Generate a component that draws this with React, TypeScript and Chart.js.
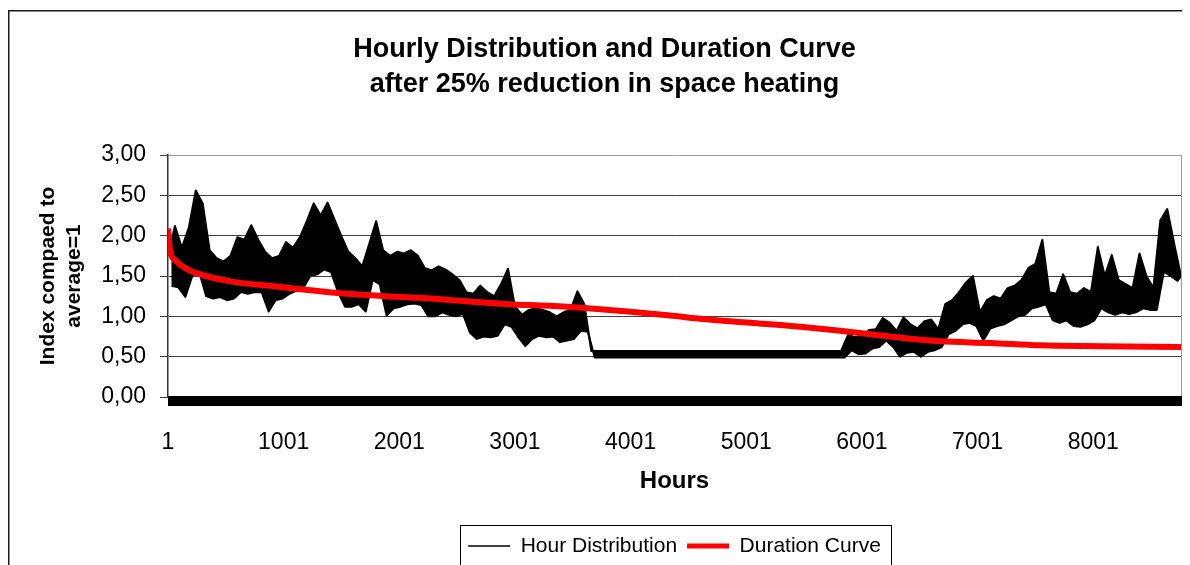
import React, { useEffect, useRef } from 'react';
import { Chart, registerables } from 'chart.js';

Chart.register(...registerables);

const FONT = "'Liberation Sans', Arial, Helvetica, sans-serif";

const titleLines = ['Hourly Distribution and Duration Curve', 'after 25% reduction in space heating'];
const yAxisTitleLines = ['Index compaed to', 'average=1'];
const xAxisTitle = 'Hours';
const xTickValues = [1, 1001, 2001, 3001, 4001, 5001, 6001, 7001, 8001];
const yTickLabels = ['0,00', '0,50', '1,00', '1,50', '2,00', '2,50', '3,00'];
const seriesNames = ['Hour Distribution', 'Duration Curve'];

// Hour distribution: every 60 hours the band's top, 30 hours later its bottom
const sampleSpacingHours = 60;
const hourHigh = [
  1.75, 2.12, 1.85, 2.10, 2.56, 2.40, 1.82, 1.72, 1.68, 1.75,
  1.98, 1.95, 2.13, 1.95, 1.80, 1.72, 1.75, 1.92, 1.85, 1.98,
  2.18, 2.40, 2.25, 2.41, 2.20, 1.99, 1.80, 1.72, 1.62, 1.90,
  2.18, 1.82, 1.75, 1.80, 1.78, 1.82, 1.75, 1.60, 1.57, 1.62,
  1.58, 1.52, 1.45, 1.30, 1.28, 1.38, 1.30, 1.25, 1.40, 1.59,
  1.12, 1.02, 1.08, 1.10, 1.08, 1.05, 1.00, 1.05, 1.08, 1.31,
  1.15,
  0.57, 0.57, 0.57, 0.57, 0.57, 0.57, 0.57, 0.57, 0.57, 0.57,
  0.57, 0.57, 0.57, 0.57, 0.57, 0.57, 0.57, 0.57, 0.57, 0.57,
  0.57, 0.57, 0.57, 0.57, 0.57, 0.57, 0.57, 0.57, 0.57, 0.57,
  0.57, 0.57, 0.57, 0.57, 0.57, 0.57, 0.57,
  0.77, 0.74, 0.76, 0.83, 0.84, 0.98, 0.92, 0.82, 0.99, 0.90,
  0.85, 0.94, 0.96, 0.84, 1.15, 1.20, 1.30, 1.42, 1.50, 1.05,
  1.20, 1.25, 1.22, 1.35, 1.38, 1.45, 1.60, 1.65, 1.95, 1.30,
  1.28, 1.52, 1.30, 1.28, 1.35, 1.30, 1.86, 1.50, 1.76, 1.45,
  1.40, 1.35, 1.78, 1.50, 1.35, 2.19, 2.33, 1.90,
];
const hourLow = [
  1.38, 1.36, 1.24, 1.50, 1.55, 1.25, 1.22, 1.24, 1.20, 1.22,
  1.30, 1.28, 1.30, 1.30, 1.06, 1.20, 1.22, 1.28, 1.32, 1.35,
  1.50, 1.52, 1.58, 1.55, 1.30, 1.12, 1.12, 1.15, 1.06, 1.45,
  1.40, 1.01, 1.10, 1.12, 1.15, 1.16, 1.14, 1.00, 1.00, 1.05,
  1.02, 1.00, 1.03, 0.80, 0.72, 0.75, 0.74, 0.76, 0.90, 0.87,
  0.74, 0.63, 0.72, 0.76, 0.74, 0.75, 0.68, 0.70, 0.72, 0.82,
  0.81,
  0.49, 0.49, 0.49, 0.49, 0.49, 0.49, 0.49, 0.49, 0.49, 0.49,
  0.49, 0.49, 0.49, 0.49, 0.49, 0.49, 0.49, 0.49, 0.49, 0.49,
  0.49, 0.49, 0.49, 0.49, 0.49, 0.49, 0.49, 0.49, 0.49, 0.49,
  0.49, 0.49, 0.49, 0.49, 0.49, 0.49, 0.49,
  0.58, 0.53, 0.54, 0.60, 0.62, 0.70, 0.62, 0.50, 0.55, 0.56,
  0.50, 0.56, 0.58, 0.62, 0.78, 0.82, 0.90, 0.92, 0.88, 0.70,
  0.85, 0.88, 0.90, 0.95, 1.00, 1.02, 1.10, 1.12, 1.15, 0.95,
  0.92, 0.95, 0.88, 0.87, 0.90, 0.95, 1.10, 1.05, 1.02, 1.05,
  1.03, 1.05, 1.10, 1.08, 1.08, 1.55, 1.50, 1.44,
];
const hourLastHour = 8760;
const hourLastValue = 1.5;

// Duration curve
const durationHours = [1, 18, 61, 148, 260, 555, 934, 1123, 1469, 1883, 2172, 2552, 2950, 3297, 3633, 3979, 4411, 4601, 5034, 5466, 5812, 6244, 6676, 7109, 7541, 8060, 8760];
const durationValues = [2.09, 1.82, 1.70, 1.60, 1.53, 1.43, 1.37, 1.34, 1.29, 1.25, 1.23, 1.19, 1.15, 1.13, 1.10, 1.06, 1.00, 0.97, 0.92, 0.87, 0.82, 0.75, 0.69, 0.67, 0.64, 0.63, 0.62];

function envelopePoints(values: number[], offsetHours: number) {
  const pts = values.map((v, i) => ({ x: 1 + offsetHours + i * sampleSpacingHours, y: v }));
  pts.push({ x: hourLastHour, y: hourLastValue });
  return pts;
}

const decorPlugin = {
  id: 'decor',
  beforeDraw(chart: any) {
    const { ctx } = chart;
    ctx.save();
    ctx.fillStyle = '#ffffff';
    ctx.fillRect(0, 0, chart.width, chart.height);
    ctx.restore();
  },
  afterDraw(chart: any) {
    const { ctx, chartArea } = chart;
    const { left, right, top, bottom } = chartArea;
    const yScale = chart.scales.y;
    ctx.save();
    ctx.strokeStyle = '#9a9a9a';
    ctx.lineWidth = 1;
    ctx.beginPath();
    ctx.moveTo(Math.round(right) + 0.5, top);
    ctx.lineTo(Math.round(right) + 0.5, bottom);
    ctx.stroke();
    const y0 = yScale.getPixelForValue(0);
    ctx.fillStyle = '#000000';
    ctx.fillRect(left, y0 - 1, right - left + 1, 10);
    ctx.strokeStyle = '#1a1a1a';
    ctx.lineWidth = 1.5;
    ctx.strokeRect(0.75, 2.75, chart.width + 20, chart.height + 20);
    const hb = chart.legend && chart.legend.legendHitBoxes;
    if (hb && hb.length) {
      const l = hb[0].left - 8;
      const last = hb[hb.length - 1];
      const r = last.left + last.width + 10;
      const t = hb[0].top - 10.5;
      ctx.strokeStyle = '#000000';
      ctx.lineWidth = 1;
      ctx.strokeRect(Math.round(l) + 0.5, Math.round(t) + 0.5, Math.round(r - l), 42);
    }
    ctx.restore();
  },
};

export default function App() {
  const canvasRef = useRef<HTMLCanvasElement | null>(null);

  useEffect(() => {
    document.documentElement.style.overflow = 'hidden';
    document.body.style.overflow = 'hidden';
    const canvas = canvasRef.current;
    if (!canvas) return;
    const chart = new Chart(canvas, {
      type: 'line',
      data: {
        datasets: [
          {
            label: seriesNames[1],
            data: durationHours.map((h, i) => ({ x: h, y: durationValues[i] })),
            borderColor: '#ff0000',
            backgroundColor: '#ff0000',
            borderWidth: 6,
            pointRadius: 0,
            fill: false,
            cubicInterpolationMode: 'monotone',
            borderCapStyle: 'butt',
          },
          {
            label: seriesNames[0],
            data: envelopePoints(hourHigh, 0),
            borderColor: '#000000',
            backgroundColor: '#000000',
            borderWidth: 2,
            pointRadius: 0,
            fill: '+1',
            tension: 0,
            borderJoinStyle: 'round',
          },
          {
            label: seriesNames[0] + ' (low)',
            data: envelopePoints(hourLow, sampleSpacingHours / 2),
            borderColor: '#000000',
            backgroundColor: '#000000',
            borderWidth: 2,
            pointRadius: 0,
            fill: false,
            tension: 0,
            borderJoinStyle: 'round',
          },
        ],
      },
      options: {
        animation: false,
        responsive: false,
        events: [],
        layout: { padding: { left: 20, right: 9, top: 0, bottom: 21.5 } },
        plugins: {
          title: {
            display: true,
            text: titleLines,
            color: '#000000',
            font: { family: FONT, size: 27, weight: 'bold', lineHeight: 35 / 27 },
            padding: { top: 24.5, bottom: 52.5 },
          },
          legend: {
            display: true,
            position: 'bottom',
            fullSize: false,
            labels: {
              usePointStyle: true,
              pointStyleWidth: 42,
              padding: 10,
              color: '#000000',
              font: { family: FONT, size: 21 },
              generateLabels: () => [
                { text: seriesNames[0], strokeStyle: '#000000', fillStyle: '#000000', lineWidth: 1.5, pointStyle: 'line', hidden: false, datasetIndex: 1, fontColor: '#000000' },
                { text: seriesNames[1], strokeStyle: '#ff0000', fillStyle: '#ff0000', lineWidth: 5, pointStyle: 'line', hidden: false, datasetIndex: 0, fontColor: '#000000' },
              ],
            },
          },
          tooltip: { enabled: false },
        },
        scales: {
          x: {
            type: 'linear',
            min: 1,
            max: 8760,
            afterBuildTicks: (scale: any) => {
              scale.ticks = xTickValues.map((v) => ({ value: v }));
            },
            afterFit: (scale: any) => {
              scale.height = 128.5;
            },
            ticks: {
              autoSkip: false,
              maxRotation: 0,
              padding: 32,
              color: '#000000',
              font: { family: FONT, size: 23 },
              callback: (v: any) => String(v),
            },
            grid: { display: false, drawTicks: false },
            border: { display: true, color: '#000000' },
            title: {
              display: true,
              text: xAxisTitle,
              color: '#000000',
              font: { family: FONT, size: 24, weight: 'bold' },
              padding: { top: 0, bottom: 30 },
            },
          },
          y: {
            min: 0,
            max: 3,
            afterFit: (scale: any) => {
              scale.width = 140;
            },
            ticks: {
              stepSize: 0.5,
              padding: 14,
              color: '#000000',
              font: { family: FONT, size: 23 },
              callback: (_v: any, i: number) => yTickLabels[i],
            },
            grid: {
              color: (ctx: any) => (ctx.tick && ctx.tick.value === 3 ? '#a0a0a0' : '#404040'),
              tickColor: '#404040',
              tickLength: 8,
              lineWidth: 1,
            },
            border: { display: true, color: '#333333', width: 1.5 },
            title: {
              display: true,
              text: yAxisTitleLines,
              color: '#000000',
              font: { family: FONT, size: 21, weight: 'bold', lineHeight: 26 / 21 },
              padding: { top: 7, bottom: 0 },
            },
          },
        },
      },
      plugins: [decorPlugin],
    } as any);
    return () => chart.destroy();
  }, []);

  return (
    <div style={{ width: 1182, height: 580 }}>
      <canvas ref={canvasRef} width={1182} height={580} style={{ display: 'block' }} />
    </div>
  );
}
